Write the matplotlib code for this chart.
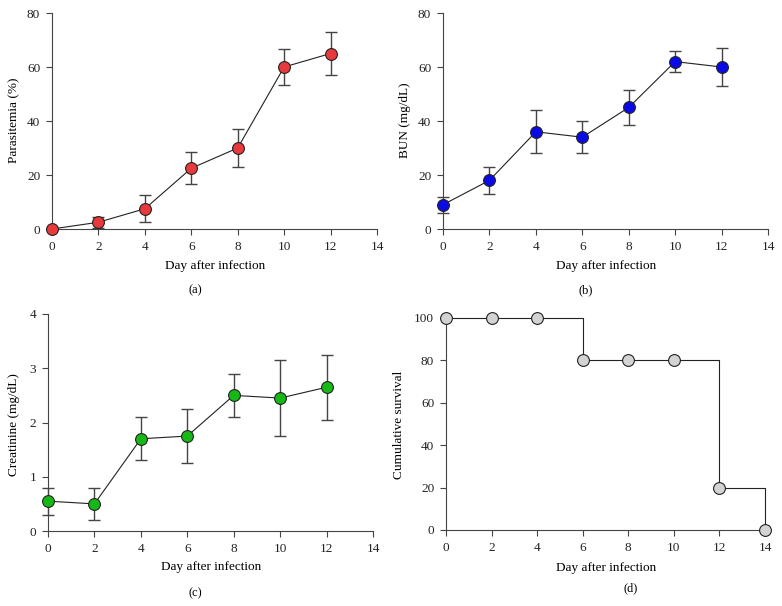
import matplotlib.pyplot as plt

plt.rcParams['font.family'] = ['Liberation Serif', 'DejaVu Serif']

days = [0, 2, 4, 6, 8, 10, 12]

parasitemia     = [0, 2.5, 7.5, 22.5, 30, 60, 65]
parasitemia_err = [0, 2, 5, 6, 7, 6.5, 8]

bun     = [9, 18, 36, 34, 45, 62, 60]
bun_err = [3, 5, 8, 6, 6.5, 4, 7]

creatinine     = [0.55, 0.5, 1.7, 1.75, 2.5, 2.45, 2.65]
creatinine_err = [0.25, 0.3, 0.4, 0.5, 0.4, 0.7, 0.6]

surv_days = [0, 2, 4, 6, 8, 10, 12, 14]
survival  = [100, 100, 100, 80, 80, 80, 20, 0]

W, H = 782, 606
fig = plt.figure(figsize=(W / 100, H / 100), dpi=100)


def px_axes(left, top, right, bottom):
    return fig.add_axes([left / W, 1 - bottom / H, (right - left) / W, (bottom - top) / H])


def style(ax, ymax, yticks):
    ax.set_xlim(0, 14)
    ax.set_ylim(0, ymax)
    ax.set_xticks(range(0, 15, 2))
    ax.set_yticks(yticks)
    for s in ['top', 'right']:
        ax.spines[s].set_visible(False)
    for s in ['left', 'bottom']:
        ax.spines[s].set_linewidth(0.8)
        ax.spines[s].set_color('#444444')
    ax.tick_params(direction='out', length=4, width=0.8, labelsize=9.5, colors='#444444',
                   labelcolor='#222222', pad=4.5)


def labels(cx_x, y_x, cy_y, x_y, cap_x, cap_y, ylabel, cap):
    fig.text(cx_x / W, 1 - x_y / H, 'Day after infection', ha='center', va='center', fontsize=9.5)
    fig.text(y_x / W, 1 - cy_y / H, ylabel, ha='center', va='center', rotation=90, fontsize=9.5)
    fig.text(cap_x / W, 1 - cap_y / H, cap, ha='center', va='center', fontsize=9)


def err_panel(ax, y, err, color):
    ax.errorbar(days, y, yerr=err, fmt='none', ecolor='#444444', elinewidth=1,
                capsize=4, capthick=1, clip_on=False, zorder=2)
    ax.plot(days, y, color='#222222', lw=0.8, marker='o', ms=8.5, mfc=color,
            mec='#222222', mew=0.8, clip_on=False, zorder=3)


ax1 = px_axes(52, 13, 377, 229)
style(ax1, 80, range(0, 81, 20))
err_panel(ax1, parasitemia, parasitemia_err, '#e8393c')
labels(215, 14, 120, 266, 195, 290, 'Parasitemia (%)', '(a)')

ax2 = px_axes(443, 13, 768, 229)
style(ax2, 80, range(0, 81, 20))
err_panel(ax2, bun, bun_err, '#0a0ae6')
labels(606, 405, 120, 266, 586, 290, 'BUN (mg/dL)', '(b)')

ax3 = px_axes(48, 314, 373, 531)
style(ax3, 4, range(0, 5))
err_panel(ax3, creatinine, creatinine_err, '#16b816')
labels(211, 14, 425, 567, 195, 593, 'Creatinine (mg/dL)', '(c)')

ax4 = px_axes(446, 318, 765, 530)
style(ax4, 100, range(0, 101, 20))
ax4.plot(surv_days, survival, color='#222222', lw=0.8, drawstyle='steps-post', zorder=2,
         clip_on=False)
ax4.plot(surv_days, survival, ls='none', marker='o', ms=8.5, mfc='#d3d3d3',
         mec='#222222', mew=0.8, clip_on=False, zorder=3)
labels(606, 399, 425, 568, 631, 588, 'Cumulative survival', '(d)')

fig.savefig('out.png', dpi=100)
